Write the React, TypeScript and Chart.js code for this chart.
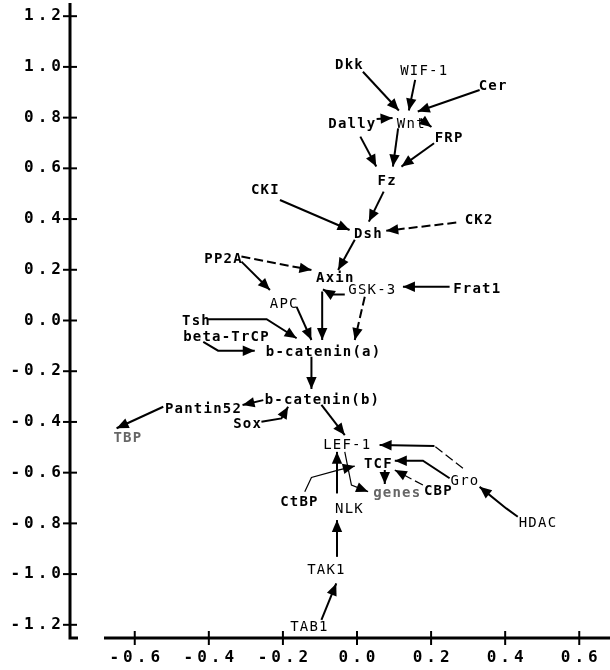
import React, { useEffect, useRef } from "react";
import { Chart, registerables } from "chart.js";

Chart.register(...registerables);

// ---- data ----
const nodeNames = [
  "Dkk", "WIF-1", "Cer", "Dally", "Wnt", "FRP", "Fz", "CKI", "Dsh", "CK2",
  "PP2A", "Axin", "GSK-3", "Frat1", "APC", "Tsh", "beta-TrCP", "b-catenin(a)",
  "b-catenin(b)", "Pantin52", "Sox", "TBP", "LEF-1", "TCF", "Gro", "genes",
  "CBP", "CtBP", "NLK", "HDAC", "TAK1", "TAB1",
];
const nodeX = [
  -0.022, 0.18, 0.366, -0.014, 0.145, 0.247, 0.08, -0.249, 0.029, 0.328,
  -0.362, -0.06, 0.04, 0.323, -0.198, -0.435, -0.354, -0.092,
  -0.095, -0.416, -0.297, -0.62, -0.028, 0.056, 0.29, 0.107,
  0.218, -0.157, -0.022, 0.487, -0.084, -0.13,
];
const nodeY = [
  1.008, 0.982, 0.925, 0.775, 0.775, 0.72, 0.55, 0.515, 0.341, 0.393,
  0.242, 0.168, 0.12, 0.124, 0.065, -0.002, -0.065, -0.124,
  -0.314, -0.349, -0.408, -0.464, -0.491, -0.566, -0.633, -0.681,
  -0.673, -0.716, -0.744, -0.799, -0.984, -1.209,
];
const nodeBold = [
  1, 0, 1, 1, 0, 1, 1, 1, 1, 1,
  1, 1, 0, 1, 0, 1, 1, 1,
  1, 1, 1, 1, 0, 1, 0, 1,
  1, 1, 0, 0, 0, 0,
];
const nodeGray = ["TBP", "genes"];

// edge routes (data units), arrow at last point
const edgeRoutes: number[][][] = [
  [[0.016, 0.981], [0.113, 0.828]],                 // Dkk -> Wnt
  [[0.157, 0.949], [0.14, 0.828]],                  // WIF-1 -> Wnt
  [[0.331, 0.909], [0.164, 0.824]],                 // Cer -> Wnt
  [[0.053, 0.795], [0.096, 0.799]],                 // Dally -> Wnt
  [[0.172, 0.795], [0.201, 0.763]],                 // Wnt -> FRP
  [[0.009, 0.725], [0.052, 0.607]],                 // Dally -> Fz
  [[0.111, 0.758], [0.097, 0.607]],                 // Wnt -> Fz
  [[0.208, 0.699], [0.12, 0.607]],                  // FRP -> Fz
  [[0.072, 0.508], [0.032, 0.39]],                  // Fz -> Dsh
  [[-0.208, 0.475], [-0.02, 0.357]],                // CKI -> Dsh
  [[0.268, 0.386], [0.079, 0.354]],                 // CK2 -> Dsh
  [[-0.006, 0.318], [-0.051, 0.199]],               // Dsh -> Axin
  [[-0.312, 0.252], [-0.123, 0.199]],               // PP2A -> Axin
  [[-0.312, 0.232], [-0.235, 0.12]],                // PP2A -> APC
  [[-0.033, 0.103], [-0.069, 0.103], [-0.092, 0.123]], // GSK-3 -> Axin
  [[-0.094, 0.114], [-0.094, -0.077]],              // Axin -> b-catenin(a)
  [[0.25, 0.133], [0.124, 0.133]],                  // Frat1 -> GSK-3
  [[0.021, 0.094], [-0.006, -0.077]],               // GSK-3 -> b-catenin(a)
  [[-0.163, 0.054], [-0.123, -0.077]],              // APC -> b-catenin(a)
  [[-0.402, 0.005], [-0.244, 0.005], [-0.163, -0.07]], // Tsh -> b-catenin(a)
  [[-0.415, -0.084], [-0.375, -0.119], [-0.276, -0.119]], // beta-TrCP -> b-catenin(a)
  [[-0.123, -0.143], [-0.123, -0.27]],              // b-catenin(a) -> b-catenin(b)
  [[-0.253, -0.314], [-0.309, -0.333]],             // b-catenin(b) -> Pantin52
  [[-0.523, -0.34], [-0.649, -0.425]],              // Pantin52 -> TBP
  [[-0.258, -0.399], [-0.204, -0.386], [-0.186, -0.34]], // Sox -> b-catenin(b)
  [[-0.096, -0.333], [-0.033, -0.452]],             // b-catenin(b) -> LEF-1
  [[0.286, -0.583], [0.209, -0.495]],               // Gro -> LEF-1 (dashed part)
  [[0.209, -0.495], [0.061, -0.491]],               // Gro -> LEF-1
  [[0.25, -0.622], [0.178, -0.553], [0.102, -0.553]], // Gro -> TCF
  [[0.178, -0.649], [0.102, -0.59]],                // CBP -> TCF
  [[0.434, -0.774], [0.403, -0.741], [0.331, -0.656]], // HDAC -> Gro
  [[0.075, -0.59], [0.075, -0.645]],                // TCF -> genes
  [[-0.141, -0.675], [-0.123, -0.619], [-0.051, -0.59], [-0.006, -0.574]], // CtBP -> TCF
  [[-0.054, -0.682], [-0.054, -0.518]],             // NLK -> LEF-1
  [[-0.033, -0.518], [-0.015, -0.649], [0.03, -0.675]], // LEF-1 -> genes
  [[-0.054, -0.932], [-0.054, -0.787]],             // TAK1 -> NLK
  [[-0.096, -1.181], [-0.056, -1.037]],             // TAB1 -> TAK1
];
const edgeDashed = [
  0, 0, 0, 0, 0, 0, 0, 0, 0, 0, 1, 0, 1, 0, 0, 0, 0, 1, 0, 0, 0, 0, 0, 0, 0, 0,
  1, 0, 0, 1, 0, 0, 0, 0, 0, 0, 0,
];
const edgeThin = [
  0, 0, 0, 0, 0, 0, 0, 0, 0, 0, 0, 0, 0, 0, 0, 0, 0, 0, 0, 0, 0, 0, 0, 0, 0, 0,
  1, 0, 0, 1, 0, 0, 1, 0, 1, 0, 0,
];
const edgeArrow = [
  1, 1, 1, 1, 1, 1, 1, 1, 1, 1, 1, 1, 1, 1, 1, 1, 1, 1, 1, 1, 1, 1, 1, 1, 1, 1,
  0, 1, 1, 1, 1, 1, 1, 1, 1, 1, 1,
];

const xTicks = [-0.6, -0.4, -0.2, 0.0, 0.2, 0.4, 0.6];
const yTicks = [-1.2, -1.0, -0.8, -0.6, -0.4, -0.2, 0.0, 0.2, 0.4, 0.6, 0.8, 1.0, 1.2];
const xRange = [-0.683, 0.683];
const yRange = [-1.252, 1.252];

function drawSpaced(ctx: CanvasRenderingContext2D, text: string, x: number, y: number, spacing: number, align: "left" | "center" | "right") {
  (ctx as any).letterSpacing = spacing + "px";
  const w = ctx.measureText(text).width - spacing;
  let left = x;
  if (align === "center") left = x - w / 2;
  else if (align === "right") left = x - w;
  ctx.textAlign = "left";
  ctx.fillText(text, left, y);
  (ctx as any).letterSpacing = "0px";
}

const graphPlugin = {
  id: "graphPlugin",
  afterDatasetsDraw(chart: any) {
    const ctx: CanvasRenderingContext2D = chart.ctx;
    const xs = chart.scales.x;
    const ys = chart.scales.y;
    ctx.save();
    // arrowheads
    edgeRoutes.forEach((route, i) => {
      if (!edgeArrow[i]) return;
      const a = route[route.length - 2];
      const b = route[route.length - 1];
      const x1 = xs.getPixelForValue(a[0]);
      const y1 = ys.getPixelForValue(a[1]);
      const x2 = xs.getPixelForValue(b[0]);
      const y2 = ys.getPixelForValue(b[1]);
      const ang = Math.atan2(y2 - y1, x2 - x1);
      const len = 12;
      const hw = 5.2;
      const bx = x2 - len * Math.cos(ang);
      const by = y2 - len * Math.sin(ang);
      ctx.beginPath();
      ctx.moveTo(x2, y2);
      ctx.lineTo(bx + hw * Math.sin(ang), by - hw * Math.cos(ang));
      ctx.lineTo(bx - hw * Math.sin(ang), by + hw * Math.cos(ang));
      ctx.closePath();
      ctx.fillStyle = "#000";
      ctx.fill();
    });
    // labels
    ctx.textBaseline = "middle";
    nodeNames.forEach((name, i) => {
      const px = xs.getPixelForValue(nodeX[i]);
      const py = ys.getPixelForValue(nodeY[i]);
      ctx.font = (nodeBold[i] ? "bold " : "") + '14px "DejaVu Sans Mono"';
      ctx.fillStyle = nodeGray.includes(name) ? "#666666" : "#000000";
      drawSpaced(ctx, name, px, py, 1.2, "center");
    });
    ctx.restore();
  },
  afterDraw(chart: any) {
    const ctx: CanvasRenderingContext2D = chart.ctx;
    const xs = chart.scales.x;
    const ys = chart.scales.y;
    const area = chart.chartArea;
    ctx.save();
    ctx.strokeStyle = "#000";
    ctx.fillStyle = "#000";
    // y axis
    const ax = area.left - 34;
    const yTop = ys.getPixelForValue(yRange[1]);
    const yBot = ys.getPixelForValue(yRange[0]);
    ctx.lineWidth = 3;
    ctx.beginPath();
    ctx.moveTo(ax, yTop);
    ctx.lineTo(ax, yBot);
    ctx.lineTo(ax + 8, yBot);
    ctx.stroke();
    ctx.lineWidth = 2;
    ctx.font = 'bold 16px "DejaVu Sans Mono"';
    ctx.textBaseline = "middle";
    yTicks.forEach((t) => {
      const py = ys.getPixelForValue(t);
      ctx.beginPath();
      ctx.moveTo(ax - 7, py);
      ctx.lineTo(ax + 7, py);
      ctx.stroke();
      drawSpaced(ctx, t.toFixed(1), ax - 9, py, 4, "right");
    });
    // x axis
    const ay = yBot;
    ctx.lineWidth = 3;
    ctx.beginPath();
    ctx.moveTo(area.left, ay);
    ctx.lineTo(chart.width, ay);
    ctx.stroke();
    ctx.lineWidth = 2;
    xTicks.forEach((t) => {
      const px = xs.getPixelForValue(t);
      ctx.beginPath();
      ctx.moveTo(px, ay - 7);
      ctx.lineTo(px, ay + 7);
      ctx.stroke();
      drawSpaced(ctx, t.toFixed(1), px, ay + 20, 4, "center");
    });
    ctx.restore();
  },
};

export default function App() {
  const ref = useRef<HTMLCanvasElement | null>(null);
  useEffect(() => {
    if (!ref.current) return;
    const datasets: any[] = [
      {
        label: "nodes",
        data: nodeNames.map((_, i) => ({ x: nodeX[i], y: nodeY[i] })),
        pointRadius: 0,
        showLine: false,
      },
    ];
    edgeRoutes.forEach((route, i) => {
      datasets.push({
        label: "edge" + i,
        data: route.map((p) => ({ x: p[0], y: p[1] })),
        showLine: true,
        pointRadius: 0,
        borderColor: "#000",
        borderWidth: edgeThin[i] ? 1.2 : 2,
        borderDash: edgeDashed[i] ? [9, 4] : [],
        tension: 0,
        fill: false,
        clip: false,
      });
    });
    const chart = new Chart(ref.current, {
      type: "scatter",
      data: { datasets },
      options: {
        animation: false,
        responsive: false,
        devicePixelRatio: 1,
        layout: { padding: { left: 104, right: 0, top: 3, bottom: 32 } },
        scales: {
          x: { type: "linear", min: xRange[0], max: xRange[1], display: false },
          y: { type: "linear", min: yRange[0], max: yRange[1], display: false },
        },
        plugins: { legend: { display: false }, tooltip: { enabled: false } },
        events: [],
      },
      plugins: [graphPlugin],
    });
    return () => chart.destroy();
  }, []);
  return (
    <div style={{ position: "absolute", left: 0, top: 0, width: 610, height: 670, background: "#fff" }}>
      <canvas ref={ref} width={610} height={670} style={{ display: "block" }} />
    </div>
  );
}
